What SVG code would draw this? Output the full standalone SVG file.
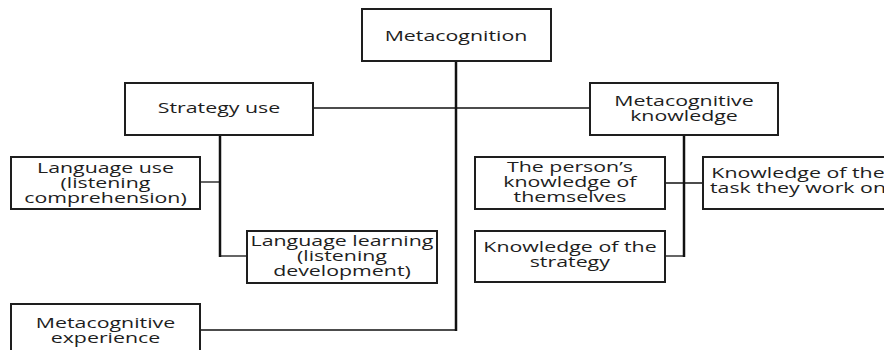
<svg xmlns="http://www.w3.org/2000/svg" width="884" height="350" viewBox="0 0 884 350">
  <style>
    .box { fill: #ffffff; stroke: #1e1e1e; stroke-width: 2; }
    .t { font-family: "Open Sans", "Liberation Sans", sans-serif; font-size: 14px; fill: #1e1e1e; text-anchor: middle;
         transform-box: fill-box; transform-origin: center; transform: scaleX(1.525); }
    .trunk { stroke: #111; stroke-width: 2.5; fill: none; }
    .branch { stroke: #111; stroke-width: 1.3; fill: none; }
  </style>
  <rect width="884" height="350" fill="#ffffff"/>

  <g id="connectors">
    <line class="branch" x1="313" y1="108" x2="590" y2="108"/>
    <line class="branch" x1="200" y1="330" x2="457" y2="330"/>
    <line class="trunk" x1="456" y1="61" x2="456" y2="331"/>
    <line class="branch" x1="200" y1="182" x2="220" y2="182"/>
    <line class="branch" x1="220" y1="256" x2="247" y2="256"/>
    <line class="trunk" x1="220" y1="135" x2="220" y2="257"/>
    <line class="branch" x1="665" y1="183" x2="703" y2="183"/>
    <line class="branch" x1="665" y1="256" x2="684" y2="256"/>
    <line class="trunk" x1="684" y1="135" x2="684" y2="257"/>
  </g>

  <g id="metacognition">
    <rect class="box" x="362" y="9" width="189" height="52"/>
    <text class="t" x="456" y="41">Metacognition</text>
  </g>

  <g id="strategy-use">
    <rect class="box" x="125" y="83" width="188" height="52"/>
    <text class="t" x="219" y="113">Strategy use</text>
  </g>

  <g id="metacognitive-knowledge">
    <rect class="box" x="590" y="83" width="188" height="52"/>
    <text class="t" x="684" y="106">Metacognitive</text>
    <text class="t" x="684" y="121">knowledge</text>
  </g>

  <g id="language-use">
    <rect class="box" x="11" y="157" width="189" height="52"/>
    <text class="t" x="105.5" y="173">Language use</text>
    <text class="t" x="105.5" y="188">(listening</text>
    <text class="t" x="105.5" y="203">comprehension)</text>
  </g>

  <g id="language-learning">
    <rect class="box" x="247" y="231" width="190" height="52"/>
    <text class="t" x="342" y="246">Language learning</text>
    <text class="t" x="342" y="261">(listening</text>
    <text class="t" x="342" y="276">development)</text>
  </g>

  <g id="metacognitive-experience">
    <rect class="box" x="11" y="304" width="189" height="60"/>
    <text class="t" x="105.5" y="328">Metacognitive</text>
    <text class="t" x="105.5" y="343">experience</text>
  </g>

  <g id="person-knowledge">
    <rect class="box" x="475" y="157" width="190" height="52"/>
    <text class="t" x="570" y="172">The person’s</text>
    <text class="t" x="570" y="187">knowledge of</text>
    <text class="t" x="570" y="202">themselves</text>
  </g>

  <g id="task-knowledge">
    <rect class="box" x="703" y="157" width="190" height="52"/>
    <text class="t" x="798" y="178">Knowledge of the</text>
    <text class="t" x="798" y="193">task they work on</text>
  </g>

  <g id="strategy-knowledge">
    <rect class="box" x="475" y="231" width="190" height="51"/>
    <text class="t" x="570" y="252">Knowledge of the</text>
    <text class="t" x="570" y="267">strategy</text>
  </g>
</svg>
